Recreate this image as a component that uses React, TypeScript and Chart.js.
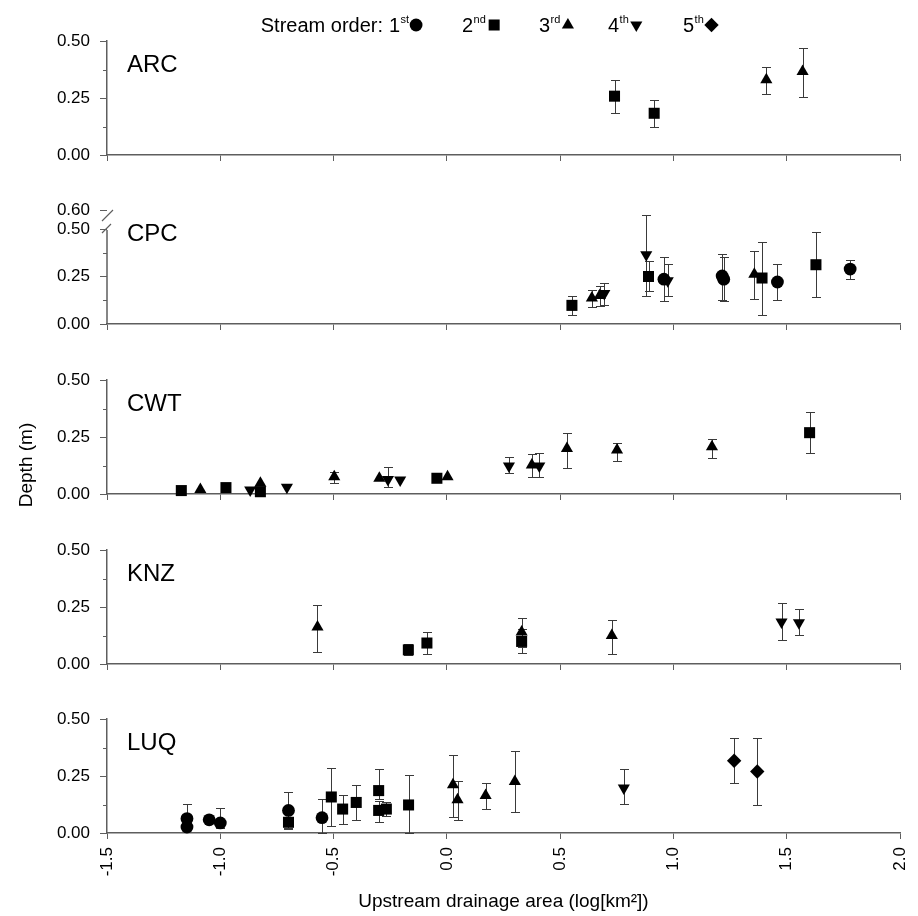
import React, { useEffect, useRef } from 'react';
import { Chart, registerables } from 'chart.js';

Chart.register(...registerables);

const FONT = "Arial, 'Liberation Sans', Helvetica, sans-serif";
const W = 918;
const H = 916;

// ---------- axis ticks ----------
const xTickValues = [-1.5, -1.0, -0.5, 0.0, 0.5, 1.0, 1.5, 2.0];
const yTickValues = [0, 0.25, 0.5];
const yTickValuesCPC = [0, 0.25, 0.5, 0.6];
const yMinorTickValues = [0.125, 0.375];

// ---------- legend ----------
const orderNumbers = ['1', '2', '3', '4', '5'];
const orderSuffixes = ['st', 'nd', 'rd', 'th', 'th'];

// ---------- data (order, log area, mean depth, lower, upper) ----------
const arcOrder = [2, 2, 3, 3];
const arcX = [0.74, 0.915, 1.41, 1.57];
const arcY = [0.258, 0.183, 0.33, 0.366];
const arcLo = [0.185, 0.123, 0.267, 0.253];
const arcHi = [0.33, 0.243, 0.388, 0.469];

const cpcOrder = [2, 3, 3, 4, 4, 2, 1, 4, 1, 1, 3, 2, 1, 2, 1];
const cpcX = [0.552, 0.64, 0.675, 0.695, 0.88, 0.89, 0.958, 0.975, 1.215, 1.222, 1.357, 1.391, 1.459, 1.629, 1.78];
const cpcY = [0.098, 0.137, 0.15, 0.16, 0.364, 0.25, 0.236, 0.228, 0.253, 0.236, 0.262, 0.242, 0.221, 0.312, 0.289];
const cpcLo = [0.049, 0.087, 0.093, 0.1, 0.15, 0.175, 0.119, 0.149, 0.128, 0.123, 0.131, 0.049, 0.128, 0.14, 0.236];
const cpcHi = [0.145, 0.177, 0.2, 0.215, 0.574, 0.329, 0.352, 0.315, 0.368, 0.352, 0.382, 0.434, 0.315, 0.483, 0.338];

const cwtOrder = [2, 3, 2, 4, 3, 2, 4, 3, 3, 4, 4, 2, 3, 4, 3, 4, 3, 3, 3, 2];
const cwtX = [-1.172, -1.088, -0.975, -0.868, -0.823, -0.823, -0.706, -0.497, -0.298, -0.26, -0.206, -0.044, 0.003, 0.274, 0.375, 0.408, 0.53, 0.751, 1.17, 1.601];
const cwtY = [0.015, 0.02, 0.028, 0.018, 0.047, 0.01, 0.03, 0.076, 0.069, 0.064, 0.061, 0.069, 0.076, 0.123, 0.127, 0.123, 0.2, 0.193, 0.207, 0.269];
const cwtLo = [null, null, null, null, null, null, null, 0.05, null, 0.03, null, null, null, 0.091, 0.073, 0.073, 0.113, 0.145, 0.159, 0.178];
const cwtHi = [null, null, null, null, null, null, null, 0.095, null, 0.12, null, null, null, 0.164, 0.174, 0.178, 0.266, 0.222, 0.24, 0.36];

const knzOrder = [3, 2, 2, 2, 3, 3, 4, 4];
const knzX = [-0.571, -0.17, -0.088, 0.33, 0.33, 0.728, 1.477, 1.554];
const knzY = [0.162, 0.062, 0.092, 0.099, 0.14, 0.125, 0.184, 0.181];
const knzLo = [0.052, 0.038, 0.042, 0.074, 0.05, 0.042, 0.104, 0.129];
const knzHi = [0.26, 0.086, 0.14, 0.155, 0.203, 0.194, 0.269, 0.243];

const luqOrder = [1, 1, 1, 1, 2, 1, 1, 2, 2, 2, 2, 2, 2, 2, 3, 3, 3, 3, 4, 5, 5];
const luqX = [-1.147, -1.147, -1.049, -1.0, -0.699, -0.699, -0.551, -0.51, -0.46, -0.4, -0.301, -0.301, -0.267, -0.169, 0.027, 0.047, 0.171, 0.3, 0.781, 1.268, 1.37];
const luqY = [0.063, 0.026, 0.058, 0.044, 0.047, 0.099, 0.067, 0.158, 0.105, 0.134, 0.186, 0.099, 0.105, 0.123, 0.212, 0.146, 0.164, 0.226, 0.197, 0.317, 0.27];
const luqLo = [0.03, null, null, 0.02, 0.018, 0.022, 0.0, 0.029, 0.039, 0.058, 0.15, 0.047, 0.073, 0.0, 0.07, 0.055, 0.105, 0.093, 0.128, 0.219, 0.124];
const luqHi = [0.128, null, null, 0.11, 0.07, 0.18, 0.149, 0.285, 0.165, 0.209, 0.279, 0.142, 0.136, 0.254, 0.34, 0.23, 0.221, 0.358, 0.279, 0.415, 0.415];

const siteNames = ['ARC', 'CPC', 'CWT', 'KNZ', 'LUQ'];

type Panel = {
  name: string;
  order: number[];
  x: number[];
  y: number[];
  lo: (number | null)[];
  hi: (number | null)[];
  yMax: number;
  ticks: number[];
};

const PANELS: Panel[] = [
  { name: siteNames[0], order: arcOrder, x: arcX, y: arcY, lo: arcLo, hi: arcHi, yMax: 0.5, ticks: yTickValues },
  { name: siteNames[1], order: cpcOrder, x: cpcX, y: cpcY, lo: cpcLo, hi: cpcHi, yMax: 0.6, ticks: yTickValuesCPC },
  { name: siteNames[2], order: cwtOrder, x: cwtX, y: cwtY, lo: cwtLo, hi: cwtHi, yMax: 0.5, ticks: yTickValues },
  { name: siteNames[3], order: knzOrder, x: knzX, y: knzY, lo: knzLo, hi: knzHi, yMax: 0.5, ticks: yTickValues },
  { name: siteNames[4], order: luqOrder, x: luqX, y: luqY, lo: luqLo, hi: luqHi, yMax: 0.5, ticks: yTickValues },
];

// ---------- layout / style (not data) ----------
const PANEL_TOP = [41, 210, 380, 550, 719];
const PANEL_BOTTOM = [155, 324, 494, 664, 833];
const AXIS_LEFT = 107;
const AXIS_RIGHT = 900;
const AXIS_COLOR = '#5e5e5e';

const MARKERS = [
  { style: 'circle', rot: 0, r: 6.4 },
  { style: 'rect', rot: 0, r: 7.8 },
  { style: 'triangle', rot: 0, r: 7.0 },
  { style: 'triangle', rot: 180, r: 7.0 },
  { style: 'rectRot', rot: 0, r: 7.2 },
];

function drawMarker(ctx: CanvasRenderingContext2D, m: { style: string; rot: number; r: number }, x: number, y: number) {
  const r = m.r;
  ctx.beginPath();
  if (m.style === 'circle') {
    ctx.arc(x, y, r, 0, Math.PI * 2);
  } else if (m.style === 'rect') {
    const s = Math.SQRT1_2 * r;
    ctx.rect(x - s, y - s, 2 * s, 2 * s);
  } else if (m.style === 'triangle') {
    let a = (m.rot * Math.PI) / 180;
    for (let k = 0; k < 3; k++) {
      const px = x + Math.sin(a) * r;
      const py = y - Math.cos(a) * r;
      if (k === 0) ctx.moveTo(px, py);
      else ctx.lineTo(px, py);
      a += (2 * Math.PI) / 3;
    }
    ctx.closePath();
  } else {
    ctx.moveTo(x, y - r);
    ctx.lineTo(x + r, y);
    ctx.lineTo(x, y + r);
    ctx.lineTo(x - r, y);
    ctx.closePath();
  }
  ctx.fill();
}

const errorBarPlugin = {
  id: 'errorBars',
  beforeDatasetsDraw(chart: any) {
    const { ctx } = chart;
    const xs = chart.scales.x;
    const ys = chart.scales.y;
    ctx.save();
    ctx.strokeStyle = '#3a3a3a';
    ctx.lineWidth = 1;
    chart.data.datasets.forEach((ds: any) => {
      ds.data.forEach((p: any) => {
        if (p.lo == null || p.hi == null) return;
        const px = Math.round(xs.getPixelForValue(p.x)) + 0.5;
        const yl = Math.round(ys.getPixelForValue(p.lo)) + 0.5;
        const yh = Math.round(ys.getPixelForValue(p.hi)) + 0.5;
        ctx.beginPath();
        ctx.moveTo(px, yl);
        ctx.lineTo(px, yh);
        ctx.moveTo(px - 4.5, yl);
        ctx.lineTo(px + 4.5, yl);
        ctx.moveTo(px - 4.5, yh);
        ctx.lineTo(px + 4.5, yh);
        ctx.stroke();
      });
    });
    ctx.restore();
  },
};

function makeDecorPlugin(panel: Panel, idx: number) {
  return {
    id: 'decor' + idx,
    afterDraw(chart: any) {
      const { ctx, chartArea } = chart;
      const ys = chart.scales.y;
      const ax = chartArea.left;
      ctx.save();
      // minor ticks
      ctx.strokeStyle = AXIS_COLOR;
      ctx.lineWidth = 1;
      yMinorTickValues.forEach((v) => {
        const py = Math.round(ys.getPixelForValue(v)) + 0.5;
        ctx.beginPath();
        ctx.moveTo(ax - 4, py);
        ctx.lineTo(ax, py);
        ctx.stroke();
      });
      // axis break for CPC
      if (panel.yMax > 0.5) {
        const y0 = ys.getPixelForValue(0);
        const y5 = ys.getPixelForValue(0.5);
        const y6 = ys.getPixelForValue(0.6);
        ctx.lineWidth = 1.5;
        ctx.beginPath();
        ctx.moveTo(ax, y0);
        ctx.lineTo(ax, y5 + 1);
        ctx.stroke();
        ctx.lineWidth = 1.2;
        ctx.beginPath();
        ctx.moveTo(ax - 5, y5 + 4);
        ctx.lineTo(ax + 4, y5 - 5);
        ctx.moveTo(ax - 5, y6 + 11);
        ctx.lineTo(ax + 6, y6);
        ctx.stroke();
      }
      // panel label
      ctx.fillStyle = '#000';
      ctx.font = `24px ${FONT}`;
      ctx.textAlign = 'left';
      ctx.textBaseline = 'alphabetic';
      ctx.fillText(panel.name, 127, chartArea.top + 31);

      // y-axis title (drawn once)
      if (idx === 2) {
        ctx.save();
        ctx.translate(27, 465);
        ctx.rotate(-Math.PI / 2);
        ctx.font = `19px ${FONT}`;
        ctx.textAlign = 'center';
        ctx.textBaseline = 'middle';
        ctx.fillText('Depth (m)', 0, 0);
        ctx.restore();
      }

      // legend (drawn once)
      if (idx === 0) {
        const base = 32;
        ctx.font = `20px ${FONT}`;
        ctx.textAlign = 'right';
        ctx.fillText('Stream order:', 383, base);
        ctx.textAlign = 'left';
        const starts = [389, 462, 539, 608, 683];
        orderNumbers.forEach((n, k) => {
          let x = starts[k];
          ctx.font = `20px ${FONT}`;
          ctx.fillText(n, x, base);
          x += ctx.measureText(n).width + 0.5;
          ctx.font = `11px ${FONT}`;
          ctx.fillText(orderSuffixes[k], x, base - 9);
          x += ctx.measureText(orderSuffixes[k]).width;
          const m = MARKERS[k];
          drawMarker(ctx, m, x + m.r + 0.5, base - 7);
        });
      }
      ctx.restore();
    },
  };
}

function makeChart(canvas: HTMLCanvasElement, panel: Panel, idx: number) {
  const isLast = idx === PANELS.length - 1;
  const top = PANEL_TOP[idx];
  const bottom = PANEL_BOTTOM[idx];
  const xAxisH = isLast ? H - bottom : 10;

  const datasets = MARKERS.map((m, k) => ({
    label: orderNumbers[k] + orderSuffixes[k],
    data: panel.x
      .map((xv, i) => ({ x: xv, y: panel.y[i], lo: panel.lo[i], hi: panel.hi[i], o: panel.order[i] }))
      .filter((p) => p.o === k + 1),
    pointStyle: m.style,
    pointRotation: m.rot,
    pointRadius: m.r,
    pointBorderWidth: 0,
    backgroundColor: '#000',
    borderColor: '#000',
    showLine: false,
    clip: false,
  }));

  return new Chart(canvas, {
    type: 'scatter',
    data: { datasets } as any,
    options: {
      responsive: false,
      animation: false,
      devicePixelRatio: 1,
      layout: { padding: { top, bottom: H - bottom - xAxisH, left: 0, right: W - AXIS_RIGHT } },
      plugins: { legend: { display: false }, tooltip: { enabled: false }, title: { display: false } },
      scales: {
        x: {
          type: 'linear',
          min: -1.5,
          max: 2.0,
          afterBuildTicks: (s: any) => {
            s.ticks = xTickValues.map((v) => ({ value: v }));
          },
          afterFit: (s: any) => {
            s.height = xAxisH;
            s.paddingLeft = 0;
            s.paddingRight = 0;
          },
          ticks: {
            display: isLast,
            autoSkip: false,
            minRotation: 90,
            maxRotation: 90,
            padding: 8,
            color: '#000',
            font: { family: FONT, size: 17 },
            callback: (v: any) => Number(v).toFixed(1),
          },
          grid: { drawOnChartArea: false, drawTicks: true, tickLength: 6, color: AXIS_COLOR, tickWidth: 1 },
          border: { display: true, color: AXIS_COLOR, width: 1.5 },
          title: {
            display: isLast,
            text: 'Upstream drainage area (log[km²])',
            color: '#000',
            font: { family: FONT, size: 19 },
            padding: { top: 0, bottom: 3 },
          },
        },
        y: {
          type: 'linear',
          min: 0,
          max: panel.yMax,
          afterBuildTicks: (s: any) => {
            s.ticks = panel.ticks.map((v) => ({ value: v }));
          },
          afterFit: (s: any) => {
            s.width = AXIS_LEFT;
          },
          ticks: {
            autoSkip: false,
            padding: 10,
            color: '#000',
            font: { family: FONT, size: 17 },
            callback: (v: any) => Number(v).toFixed(2),
          },
          grid: { drawOnChartArea: false, drawTicks: true, tickLength: 7, color: AXIS_COLOR, tickWidth: 1 },
          border: { display: panel.yMax <= 0.5, color: AXIS_COLOR, width: 1.5 },
        },
      },
    } as any,
    plugins: [errorBarPlugin, makeDecorPlugin(panel, idx)],
  });
}

export default function App() {
  const refs = useRef<(HTMLCanvasElement | null)[]>([]);
  useEffect(() => {
    const charts = PANELS.map((p, i) => makeChart(refs.current[i] as HTMLCanvasElement, p, i));
    return () => charts.forEach((c) => c.destroy());
  }, []);
  return (
    <div style={{ position: 'absolute', left: 0, top: 0, width: W, height: H, background: '#fff', overflow: 'hidden' }}>
      {PANELS.map((p, i) => (
        <canvas
          key={p.name}
          ref={(el) => {
            refs.current[i] = el;
          }}
          width={W}
          height={H}
          style={{ position: 'absolute', left: 0, top: 0, width: W, height: H }}
        />
      ))}
    </div>
  );
}
